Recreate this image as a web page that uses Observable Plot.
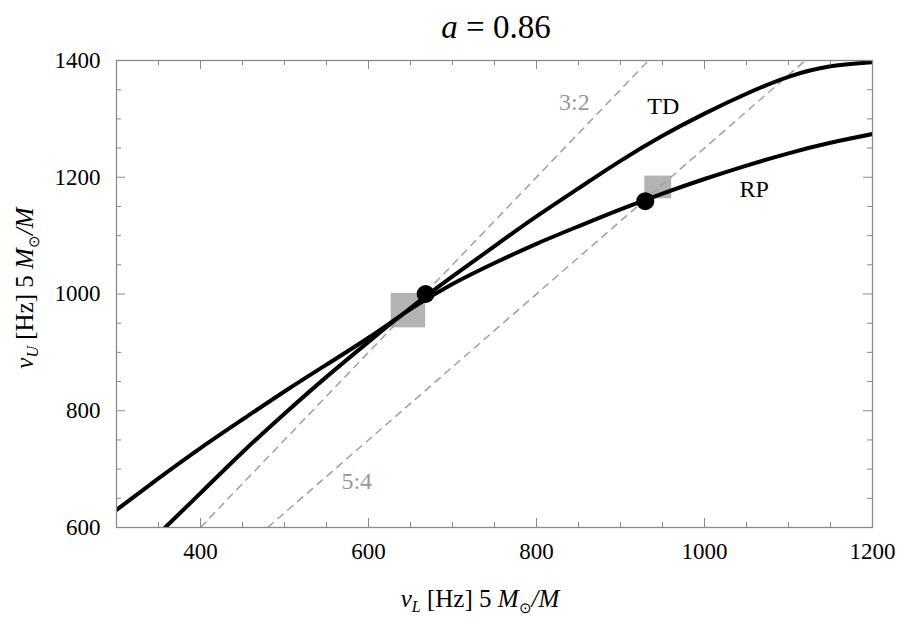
<!DOCTYPE html>
<html><head><meta charset="utf-8">
<script src="https://cdn.jsdelivr.net/npm/d3@7"></script>
<script src="https://cdn.jsdelivr.net/npm/@observablehq/plot@0.6"></script>
<style>
body{margin:0;background:#fff}
#chart{width:900px;height:618px}
</style>
</head><body><div id="chart"></div>
<script>
// Relativistic precession (RP) model curve: nu_L vs nu_U
const rpX = [300, 350, 400, 450, 500, 550, 600, 650, 700, 750, 800, 850, 900, 950, 1000, 1050, 1100, 1150, 1200];
const rpY = [630, 684, 736, 785, 833, 879, 925, 974, 1017, 1053, 1086, 1116, 1145, 1172, 1197, 1220, 1241, 1259, 1274];
// Tidal disruption (TD) model curve
const tdX = [358, 400, 450, 500, 550, 600, 650, 700, 750, 800, 850, 900, 950, 1000, 1050, 1100, 1150, 1200];
const tdY = [600, 659, 729, 795, 858, 918, 976, 1030, 1082, 1133, 1181, 1228, 1271, 1309, 1343, 1372, 1390, 1397];
// Resonance lines (3:2 and 5:4)
const resLabels = ["3:2", "5:4"];
const resX1 = [400, 480];
const resY1 = [600, 600];
const resX2 = [933.3, 1120];
const resY2 = [1400, 1400];
// Black dots (curve/resonance intersections)
const dotX = [668, 929.5];
const dotY = [1000, 1159];
// Grey observational boxes
const boxX1 = [627, 929];
const boxX2 = [668, 961];
const boxY1 = [942, 1163];
const boxY2 = [1001, 1202];
// Text labels
const labelTexts = ["TD", "RP", "3:2", "5:4"];
const labelX = [951, 1059, 845, 586];
const labelY = [1321, 1179, 1328, 679];
// Ticks
const xMajor = [400, 600, 800, 1000, 1200];
const xMinor = [300, 350, 450, 500, 550, 650, 700, 750, 850, 900, 950, 1050, 1100, 1150];
const yMajor = [600, 800, 1000, 1200, 1400];
const yMinor = [650, 700, 750, 850, 900, 950, 1050, 1100, 1150, 1250, 1300, 1350];

const W = 900, H = 618, mT = 60, mL = 116, mR = 28, mB = 91;
const pW = W - mL - mR, pH = H - mT - mB;
const frameGray = "#8a8a8a";
const major = 9, minor = 5;
const font = '"Liberation Serif", "Times New Roman", serif';

const tickMarks = (vals, len) => [
  Plot.ruleX(vals, {x: d => d, stroke: frameGray, strokeWidth: 1, insetTop: pH - len}),
  Plot.ruleX(vals, {x: d => d, stroke: frameGray, strokeWidth: 1, insetBottom: pH - len}),
];
const tickMarksY = (vals, len) => [
  Plot.ruleY(vals, {y: d => d, stroke: frameGray, strokeWidth: 1, insetRight: pW - len}),
  Plot.ruleY(vals, {y: d => d, stroke: frameGray, strokeWidth: 1, insetLeft: pW - len}),
];

const chart = Plot.plot({
  width: W, height: H,
  marginTop: mT, marginLeft: mL, marginRight: mR, marginBottom: mB,
  x: {domain: [300, 1200]},
  y: {domain: [600, 1400]},
  style: {fontFamily: font, fontSize: "23px", background: "white", color: "black"},
  marks: [
    Plot.rect(boxX1, {x1: boxX1, x2: boxX2, y1: boxY1, y2: boxY2, fill: "#b3b3b3"}),
    Plot.link(resLabels, {x1: resX1, y1: resY1, x2: resX2, y2: resY2, stroke: "#a0a0a0", strokeWidth: 1.5, strokeDasharray: "8,5"}),
    Plot.line(rpX, {x: rpX, y: rpY, curve: "natural", stroke: "black", strokeWidth: 4, clip: true}),
    Plot.line(tdX, {x: tdX, y: tdY, curve: "natural", stroke: "black", strokeWidth: 4, clip: true}),
    Plot.dot(dotX, {x: dotX, y: dotY, r: 9, fill: "black", stroke: null}),
    Plot.text(labelTexts, {x: labelX, y: labelY, text: labelTexts, fontSize: 24, fontFamily: font, textAnchor: "middle", lineAnchor: "middle",
      fill: (d) => (d.includes(":") ? "#999" : "black")}),
    ...tickMarks(xMajor, major), ...tickMarks(xMinor, minor),
    ...tickMarksY(yMajor, major), ...tickMarksY(yMinor, minor),
    Plot.frame({stroke: frameGray, strokeWidth: 1.3}),
    Plot.axisX({ticks: xMajor, tickFormat: d3.format("d"), tickSize: 0, tickPadding: 15, fontSize: 23, fontFamily: font, label: null}),
    Plot.axisY({ticks: yMajor, tickFormat: d3.format("d"), tickSize: 0, tickPadding: 16, fontSize: 23, fontFamily: font, label: null})
  ]
});
document.getElementById("chart").appendChild(chart);

const svg = d3.select(chart);
// Title
const t = svg.append("text").attr("x", 496).attr("y", 38).attr("text-anchor", "middle")
  .attr("font-family", font).attr("font-size", 33).attr("fill", "black");
t.append("tspan").attr("font-style", "italic").text("a");
t.append("tspan").text(" = 0.86");

function axisTitle(sel, sub) {
  sel.append("tspan").attr("font-style", "italic").text("ν");
  sel.append("tspan").attr("font-style", "italic").attr("font-size", 16).attr("dy", 5).text(sub);
  sel.append("tspan").attr("dy", -5).text(" [Hz] 5 ");
  sel.append("tspan").attr("font-style", "italic").text("M");
  sel.append("tspan").attr("font-size", 15).attr("dy", 6).text("⊙");
  sel.append("tspan").attr("font-style", "italic").attr("dy", -6).text("/M");
}
const xl = svg.append("text").attr("x", 480).attr("y", 607).attr("text-anchor", "middle")
  .attr("font-family", font).attr("font-size", 25).attr("fill", "black");
axisTitle(xl, "L");
const yl = svg.append("text").attr("transform", "translate(33,288) rotate(-90)").attr("text-anchor", "middle")
  .attr("font-family", font).attr("font-size", 25).attr("fill", "black");
axisTitle(yl, "U");
</script>
</body></html>
